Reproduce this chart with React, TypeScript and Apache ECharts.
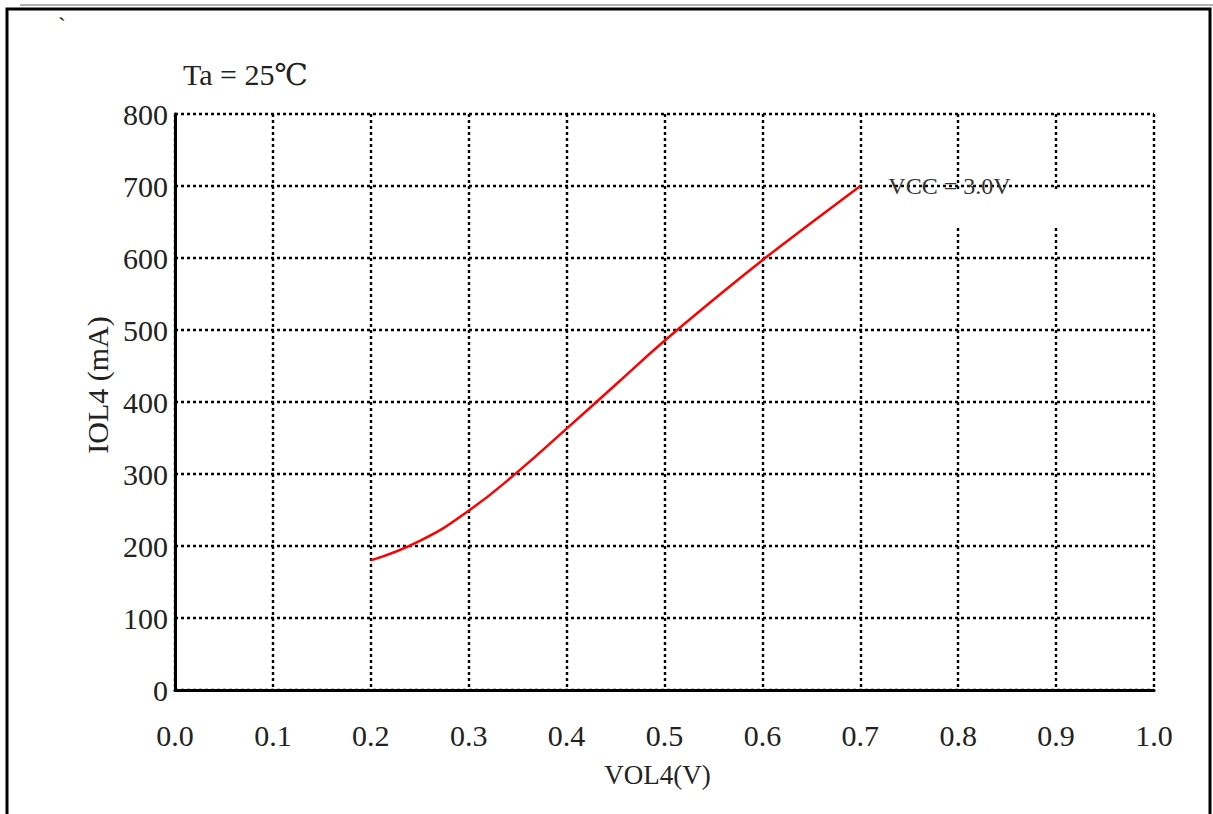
import React, { useEffect, useRef } from "react";
import * as echarts from "echarts";

const xTicks = [0, 0.1, 0.2, 0.3, 0.4, 0.5, 0.6, 0.7, 0.8, 0.9, 1.0];
const yTicks = [0, 100, 200, 300, 400, 500, 600, 700, 800];
const vol4 = [0.2, 0.25, 0.3, 0.35, 0.4, 0.45, 0.5, 0.55, 0.6, 0.65, 0.7];
const iol4 = [180, 207, 249, 303, 363, 424, 485, 542, 597, 649, 700];
const seriesName = "VCC = 3.0V";
const tempLabel = "Ta = 25\u2103";
const xName = "VOL4(V)";
const yName = "IOL4 (mA)";

const FONT = "'Liberation Serif', 'DejaVu Serif', 'Noto Sans CJK SC', serif";

export default function App() {
  const ref = useRef<HTMLDivElement>(null);
  useEffect(() => {
    if (!ref.current) return;
    const chart = echarts.init(ref.current, undefined, { renderer: "svg" });
    const dotted = { color: "#000", width: 2.4, type: [3, 3] as number[] };
    const option: any = {
      animation: false,
      backgroundColor: "#fff",
      grid: { left: 175, top: 114, right: 59, bottom: 124, containLabel: false },
      xAxis: [
        {
          type: "value",
          min: xTicks[0],
          max: xTicks[xTicks.length - 1],
          interval: 0.1,
          name: xName,
          nameLocation: "middle",
          nameGap: 71,
          nameTextStyle: { fontFamily: FONT, fontSize: 27, color: "#222", padding: [0, 14, 0, 0] },
          axisLine: { show: true, onZero: false, lineStyle: { color: "#000", width: 3 } },
          axisTick: { show: false },
          axisLabel: {
            margin: 30,
            fontFamily: FONT,
            fontSize: 30,
            color: "#222",
            formatter: (v: number) => v.toFixed(1),
          },
          splitLine: { show: true, lineStyle: dotted },
          z: 3,
        },
        {
          type: "value",
          position: "top",
          min: xTicks[0],
          max: xTicks[xTicks.length - 1],
          interval: 0.1,
          axisLine: { show: true, lineStyle: { color: "#9a9a9a", width: 3 } },
          axisTick: { show: false },
          axisLabel: { show: false },
          splitLine: { show: false },
        },
      ],
      yAxis: [
        {
          type: "value",
          min: yTicks[0],
          max: yTicks[yTicks.length - 1],
          interval: 100,
          name: yName,
          nameLocation: "middle",
          nameGap: 62,
          nameTextStyle: { fontFamily: FONT, fontSize: 30, color: "#222", padding: [0, 0, 0, 34] },
          axisLine: { show: true, onZero: false, lineStyle: { color: "#000", width: 3 } },
          axisTick: { show: false },
          axisLabel: { margin: 7, fontFamily: FONT, fontSize: 30, color: "#222" },
          splitLine: { show: true, lineStyle: dotted },
          z: 3,
        },
        {
          type: "value",
          position: "right",
          min: yTicks[0],
          max: yTicks[yTicks.length - 1],
          interval: 100,
          axisLine: { show: true, lineStyle: { color: "#9a9a9a", width: 3 } },
          axisTick: { show: false },
          axisLabel: { show: false },
          splitLine: { show: false },
        },
      ],
      series: [
        {
          name: seriesName,
          type: "line",
          data: vol4.map((v, i) => [v, iol4[i]]),
          smooth: 0.5,
          symbol: "none",
          lineStyle: { color: "#ff0000", width: 2.5 },
          endLabel: {
            show: true,
            formatter: seriesName,
            distance: 28,
            fontFamily: FONT,
            fontSize: 24,
            color: "#333",
          },
          z: 8,
        },
      ],
      graphic: [
        {
          type: "rect",
          shape: { x: 7, y: 9, width: 1203, height: 840 },
          style: { fill: "none", stroke: "#000", lineWidth: 3 },
          z: 10,
          silent: true,
        },
        {
          type: "line",
          shape: { x1: 20, y1: 5, x2: 1213, y2: 5 },
          style: { stroke: "#b0b0b0", lineWidth: 2 },
          z: 10,
          silent: true,
        },
        {
          type: "rect",
          shape: { x: 953, y: 192, width: 10, height: 34 },
          style: { fill: "#fff" },
          z: 6,
          silent: true,
        },
        {
          type: "rect",
          shape: { x: 1051, y: 192, width: 10, height: 34 },
          style: { fill: "#fff" },
          z: 6,
          silent: true,
        },
        {
          type: "text",
          x: 183,
          y: 74,
          style: {
            text: tempLabel,
            fontFamily: FONT,
            fontSize: 30,
            fill: "#222",
            textVerticalAlign: "middle",
          },
          z: 10,
        },
        {
          type: "text",
          x: 58,
          y: 26,
          style: {
            text: "`",
            fontFamily: FONT,
            fontSize: 24,
            fill: "#222",
            textVerticalAlign: "middle",
          },
          z: 10,
        },
      ],
    };
    chart.setOption(option);
    return () => chart.dispose();
  }, []);
  return (
    <div
      ref={ref}
      style={{ position: "fixed", left: 0, top: 0, width: 1213, height: 814 }}
    />
  );
}
